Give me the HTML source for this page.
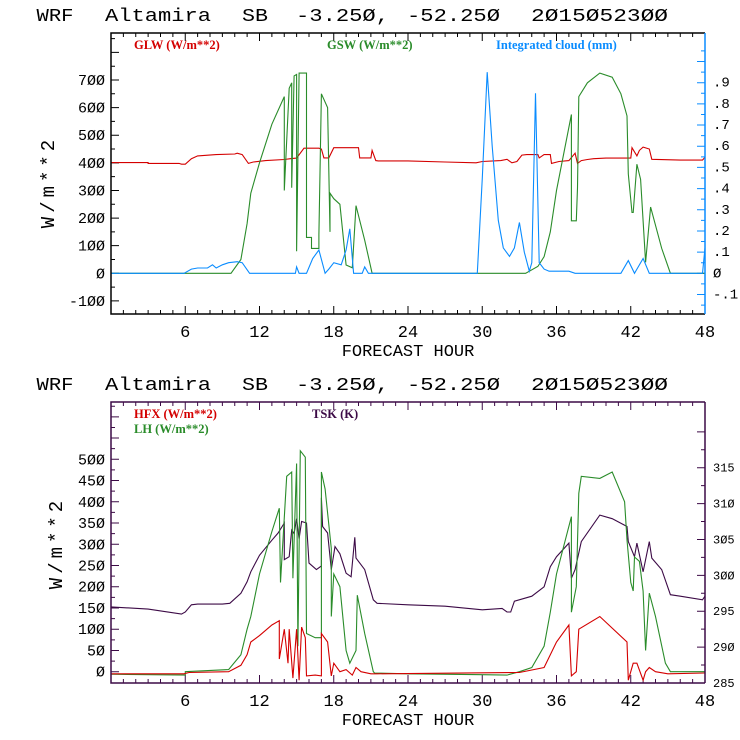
<!DOCTYPE html>
<html><head><meta charset="utf-8"><style>
html,body{margin:0;padding:0;background:#fff}
svg{display:block}
text{font-family:"Liberation Mono",monospace}
</style></head><body>
<svg id="s" width="740" height="740" viewBox="0 0 740 740"></svg>
<script>
// ===== top chart data =====
const glwHours=[0,3,3,5.5,5.7,6,6.5,7,8.5,10,10.2,10.6,11.1,11.5,12.5,14,14.5,15,15.6,16.8,17,17.2,17.6,18,20,20.1,21,21.1,21.4,21.6,24,27,29.5,30,31.5,32,32.4,32.8,33.2,33.6,34.5,34.6,35,35.5,35.6,36.2,37,37.5,37.7,38,38.5,39,40,42,42.1,42.5,42.7,43,43.5,43.7,46,47.8,48];
const glwValues=[401,401,398,398,395,395,415,425,430,432,435,430,398,403,408,412,415,417,453,453,450,418,418,455,455,418,418,445,408,407,407,403,400,405,408,413,400,405,428,430,430,418,430,430,398,405,408,435,398,408,412,415,417,417,455,425,445,457,450,413,410,410,420];
const gswHours=[0,9.7,10.5,11,11.3,12,13,14,14,14.4,14.6,14.6,14.8,15,15,15.2,15.8,15.8,16.2,16.2,16.8,16.8,17,17.5,17.7,17.7,18,18.5,19,19.5,19.8,20.5,21.1,33.5,34.5,35,35.5,36,37.2,37.2,37.6,37.7,37.8,38.5,39.5,40.5,41.2,41.7,41.8,42.1,42.2,42.5,42.8,43,43.2,43.6,44.5,45.2,48];
const gswValues=[0,0,50,180,290,400,540,640,300,670,690,310,715,720,80,725,725,130,130,90,90,140,650,600,150,290,270,250,30,20,245,120,0,0,25,60,150,300,575,190,190,310,640,690,725,710,650,570,360,220,220,395,340,190,40,240,90,0,0];
const cloudHours=[0,5.9,6.5,7,7.8,8.2,8.5,9,9.5,10.2,10.6,11.2,14.9,15,15.2,15.8,16.3,16.8,17.3,17.6,18,18.6,19,19.3,19.6,20.3,20.5,20.8,29.6,30,30.4,30.8,31.3,31.7,32.2,32.6,33,33.4,33.8,34,34.3,34.6,35,35.4,37,37.5,41.2,41.8,42.3,43,43.5,47.8,48];
const cloudValues=[0,0,0.02,0.025,0.025,0.04,0.025,0.04,0.05,0.055,0.05,0,0,0.03,0,0,0.07,0.11,0,0.02,0.05,0.04,0.11,0.21,0,0,0.03,0,0,0.45,0.95,0.6,0.25,0.12,0.08,0.12,0.24,0.1,0.01,0.05,0.85,0.05,0.02,0.01,0.01,0,0,0.06,0,0.07,0,0,0.12];
// ===== bottom chart data =====
const tskHours=[0,3,5.7,6,6.5,7,9,9.6,10.5,11,11.3,12,13,13.5,14,14,14.4,14.6,14.8,15,15.2,15.4,15.8,16,16.6,17,17,17.1,17.5,17.8,18.1,18.5,19,19.4,19.7,19.8,20.5,21.2,21.5,24,27,30,31.6,32,32.3,32.6,34,35,35.5,36,37,37.2,37.5,38,39.5,40.5,41.7,41.8,42.3,42.5,43,43.5,43.7,44.5,45.2,46,47.8,48];
const tskValues=[295.6,295.3,294.6,294.9,295.9,296.0,296.0,296.1,297.5,299.1,300.5,302.8,304.9,305.9,307.3,302.2,302.6,306.3,305.8,307.9,305.1,307.5,307.3,301.7,300.8,301.3,310.8,306.8,305.9,300.8,304.0,303.0,300.3,299.8,305.3,302.4,300.8,296.6,296.1,295.9,295.7,295.2,295.4,294.9,294.9,296.4,297.1,298.4,301.2,302.6,304.5,299.6,300.8,304.7,308.4,307.9,306.8,304.7,302.6,304.5,300.5,304.7,302.4,300.8,297.3,297.1,296.6,297.1];
const lhHours=[0,6,6,9.5,10.5,11,11.3,12,13,13.6,13.7,14.2,14.6,14.7,15,15.1,15.3,15.7,15.8,16.5,17,17,17.3,17.8,17.8,18,18.5,19,19.3,19.8,19.9,20.5,21.2,21.3,24,30,32,33,34,35,35.5,36,37.2,37.2,37.6,37.8,38,39.5,40.5,41.5,41.7,42,42.2,42.3,42.7,43,43.2,43.5,44,44.8,45.2,48];
const lhValues=[-6,-8,0,5,40,100,130,230,330,385,210,460,470,220,490,60,520,505,90,80,80,470,430,290,130,230,200,50,20,50,180,90,0,-3,-5,-7,-8,0,10,60,140,230,365,140,200,420,460,455,470,400,310,210,190,270,260,190,50,185,130,20,0,0];
const hfxHours=[0,5.9,6.3,9.5,10.5,11,11.3,12,13,13.6,13.6,14,14.3,14.4,14.7,15,15.2,15.4,15.7,15.8,16.5,17,17,17.5,17.8,18,18.5,19,19.5,19.8,20.2,21,21.5,33,35,36,37,37.2,37.6,37.8,39.5,41.7,41.8,42.2,42.5,43,43.2,43.5,44,45,48];
const hfxValues=[-5,-5,-2,0,15,40,70,85,110,120,30,100,20,100,-15,100,-20,105,80,-10,-8,-10,90,70,-10,20,0,5,-8,10,0,-5,-5,-2,10,70,110,-10,0,100,130,70,-20,20,20,-20,0,10,0,-5,-3];
const xTicks=[6,12,18,24,30,36,42,48];
const topLeftTicks=[-100,0,100,200,300,400,500,600,700];
const topRightTicks=[-0.1,0,0.1,0.2,0.3,0.4,0.5,0.6,0.7,0.8,0.9];
const botLeftTicks=[0,50,100,150,200,250,300,350,400,450,500];
const botRightTicks=[285,290,295,300,305,310,315];
const titleWords=['WRF','Altamira','SB','-3.25Ø,','-52.25Ø','2Ø15Ø523ØØ'];

const NS="http://www.w3.org/2000/svg";
const svg=document.getElementById('s');
function mk(tag,at,parent){const e=document.createElementNS(NS,tag);for(const k in at)e.setAttribute(k,at[k]);(parent||svg).appendChild(e);return e;}
function txt(s,at,parent){const e=mk('text',at,parent);e.textContent=s;return e;}
const titleX=[[36.5,37],[105,106],[242,26],[296,93],[407,93],[531,137]];

function panel(o){
  const g=mk('g',{});
  
  
  const X0=111,X1=705;
  const xs=h=>X0+(X1-X0)*h/48;
  const yl=v=>o.y0+(v-o.l0)*(o.y1-o.y0)/(o.l1-o.l0);
  const yr=v=>o.ry0+(v-o.r0)*(o.ry1-o.ry0)/(o.r1-o.r0);
  const tg=mk('g',{},g);
  
  
  titleWords.forEach((w,i)=>{txt(w,{x:titleX[i][0],y:o.ty,'font-size':18,textLength:titleX[i][1],lengthAdjust:'spacingAndGlyphs',fill:'#000'},tg);});
  let d='';
  for(let h=0;h<=48;h++){const x=xs(h);const L=h%6==0?8:4;d+=`M${x} ${o.top}v${L}M${x} ${o.bot}v${-L}`;}
  for(let v=o.lmin;v<=o.lmax;v+=o.lstep/2){const y=yl(v);if(y<o.top+1||y>o.bot-1)continue;const L=(Math.round(v/o.lstep*2)%2==0)?8:4;d+=`M${X0} ${y}h${L}`;}
  mk('path',{d,stroke:o.frame,'stroke-width':1,fill:'none'},g);
  let dr='';
  for(let v=o.rmin;v<=o.rmax+1e-9;v+=o.rstep/2){const y=yr(v);if(y<o.top+1||y>o.bot-1)continue;const L=(Math.round(v/o.rstep*2)%2==0)?8:4;dr+=`M${X1} ${y}h${-L}`;}
  mk('path',{d:dr,stroke:o.rframe,'stroke-width':1,fill:'none'},g);
  xTicks.forEach(h=>{const e=txt(String(h),{x:xs(h),y:o.bot+23,'font-size':17,'text-anchor':'middle',fill:'#000'},g);
    });
  o.lt.forEach(v=>{const e=txt(String(v).replace(/0/g,'Ø'),{x:X0-6,y:yl(v)+5,'font-size':15,'text-anchor':'end',fill:'#000'},g);
    });
  o.rt.forEach(v=>{let s=o.rfmt(v);const e=txt(s,{x:X1+8,y:yr(v)+4,'font-size':o.rfs,fill:'#000'},g);
    });
  const xt=txt('FORECAST HOUR',{x:408,y:o.bot+42,'font-size':17,'text-anchor':'middle',fill:'#000'},g);
  
  const yt=txt('W/m**2',{x:0,y:0,'font-size':19,'letter-spacing':4,'text-anchor':'middle',fill:'#000',transform:`translate(${o.ytx},${o.yty}) rotate(-90)`},g);
  
  o.series.forEach(s=>{
    const f=s.right?yr:yl;
    const pts=s.h.map((h,i)=>xs(h).toFixed(1)+','+f(s.v[i]).toFixed(1)).join(' ');
    const p=mk('polyline',{points:pts,fill:'none',stroke:s.c,'stroke-width':1.1},g);
    
  });
  o.legend.forEach(l=>{const e=txt(l.t,{x:l.x,y:l.y,'font-size':12.5,'font-weight':'bold',fill:l.c,style:'font-family:"Liberation Serif",serif'},g);
    });
  mk('path',{d:`M${X1} ${o.top}H${X0}V${o.bot}H${X1}`,stroke:o.frame,'stroke-width':1.5,fill:'none'},g);
  mk('line',{x1:X1,y1:o.top,x2:X1,y2:o.bot,stroke:o.rframe,'stroke-width':1.5},g);
}
panel({name:'radiation-panel',ty:21,top:33,bot:314,y0:273.3,y1:80,l0:0,l1:700,r0:0,r1:0.9,ry0:273.3,ry1:82.7,
  lmin:-150,lmax:850,lstep:100,rmin:-0.15,rmax:1.05,rstep:0.1,
  lt:topLeftTicks,rt:topRightTicks,rfs:14,rfmt:v=>{if(Math.abs(v)<1e-9)return 'Ø';return (v<0?'-':'')+'.'+Math.round(Math.abs(v)*10);},
  frame:'#000',rframe:'#0a8cff',ytx:54,yty:182,
  series:[{name:'glw-line',h:glwHours,v:glwValues,c:'#d40000'},{name:'gsw-line',h:gswHours,v:gswValues,c:'#2a8c2a'},{name:'cloud-line',h:cloudHours,v:cloudValues,c:'#0a8cff',right:true}],
  legend:[{t:'GLW (W/m**2)',x:134,y:49,c:'#d40000'},{t:'GSW (W/m**2)',x:327,y:49,c:'#2a8c2a'},{t:'Integrated cloud (mm)',x:496,y:49,c:'#0a8cff'}]});
panel({name:'flux-panel',ty:390,top:402,bot:683,y0:671.7,y1:459.3,l0:0,l1:500,r0:285,r1:315,ry0:683,ry1:467.7,
  lmin:-25,lmax:725,lstep:50,rmin:285,rmax:320,rstep:5,
  lt:botLeftTicks,rt:botRightTicks,rfs:12,rfmt:v=>String(v).replace(/0/g,'Ø'),
  frame:'#3c0a46',rframe:'#3c0a46',ytx:62,yty:543,
  series:[{name:'tsk-line',h:tskHours,v:tskValues,c:'#3c0a46',right:true},{name:'lh-line',h:lhHours,v:lhValues,c:'#2a8c2a'},{name:'hfx-line',h:hfxHours,v:hfxValues,c:'#d40000'}],
  legend:[{t:'HFX (W/m**2)',x:134,y:418,c:'#d40000'},{t:'LH  (W/m**2)',x:134,y:433,c:'#2a8c2a'},{t:'TSK (K)',x:312,y:418,c:'#3c0a46'}]});
</script>
</body></html>
